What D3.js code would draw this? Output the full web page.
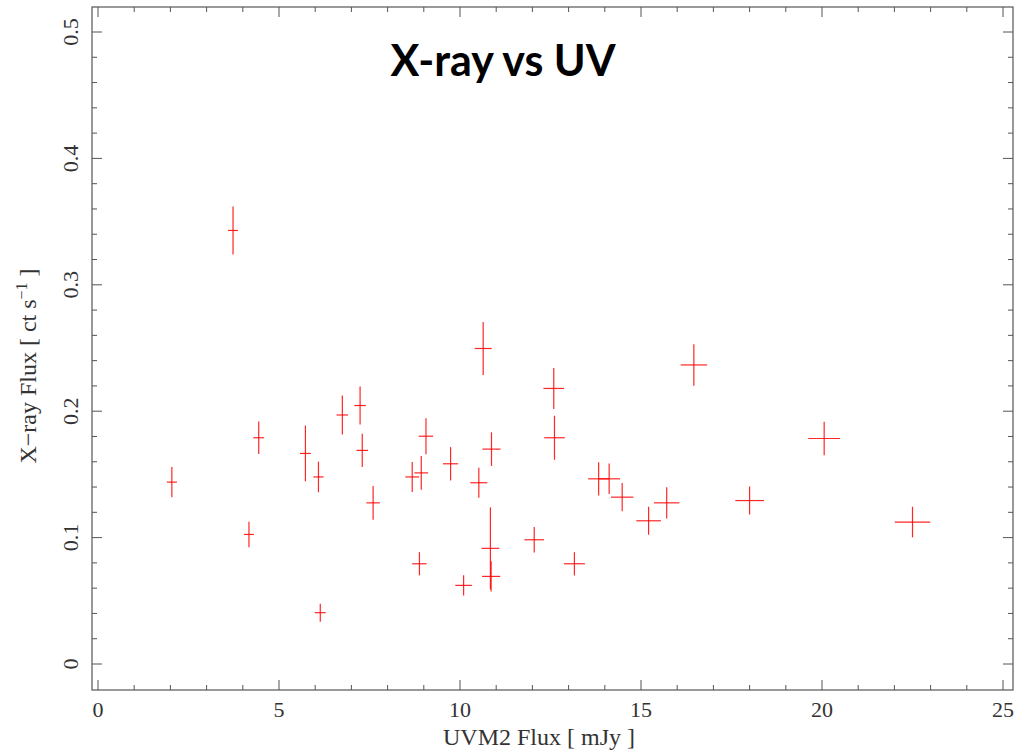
<!DOCTYPE html>
<html>
<head>
<meta charset="utf-8">
<script src="https://cdn.jsdelivr.net/npm/d3@7"></script>
<style>
  html, body { margin: 0; padding: 0; background: #fff; }
  svg { display: block; }
</style>
</head>
<body>
<svg id="chart" width="1022" height="750"></svg>
<script>
// ---- Data ----
const uvFlux   = [2.04, 3.73, 4.17, 4.44, 5.73, 6.09, 6.14, 6.75, 7.24, 7.30, 7.60, 8.68, 8.93, 8.88, 9.06, 9.74, 10.10, 10.52, 10.64, 10.84, 10.86, 10.87, 12.05, 12.59, 12.61, 13.16, 13.83, 14.12, 14.48, 15.21, 15.71, 16.46, 18.00, 20.06, 22.50];
const uvErr    = [0.14, 0.14, 0.14, 0.15, 0.15, 0.14, 0.15, 0.16, 0.16, 0.16, 0.185, 0.19, 0.19, 0.20, 0.20, 0.21, 0.23, 0.235, 0.235, 0.245, 0.25, 0.25, 0.27, 0.285, 0.285, 0.29, 0.29, 0.30, 0.31, 0.34, 0.35, 0.365, 0.395, 0.44, 0.49];
const xrayFlux = [0.1439, 0.343, 0.1025, 0.179, 0.1666, 0.148, 0.0406, 0.197, 0.2045, 0.169, 0.1275, 0.148, 0.1512, 0.0793, 0.1802, 0.1584, 0.0622, 0.1434, 0.2496, 0.0915, 0.0693, 0.170, 0.0983, 0.218, 0.179, 0.0793, 0.1465, 0.1465, 0.132, 0.1133, 0.1275, 0.2366, 0.1293, 0.1784, 0.1123];
const xrayErr  = [0.0119, 0.019, 0.0101, 0.0129, 0.0221, 0.0121, 0.0071, 0.0154, 0.015, 0.0132, 0.0134, 0.0119, 0.0133, 0.0092, 0.0142, 0.0132, 0.0081, 0.0119, 0.021, 0.0324, 0.0119, 0.0133, 0.0101, 0.0162, 0.0174, 0.0092, 0.0132, 0.0121, 0.0111, 0.0111, 0.0123, 0.0164, 0.0111, 0.0132, 0.0121];

const xMajorTicks = [0, 5, 10, 15, 20, 25];
const yMajorTicks = [0, 0.1, 0.2, 0.3, 0.4, 0.5];
const xTickLabels = ["0", "5", "10", "15", "20", "25"];
const yTickLabels = ["0", "0.1", "0.2", "0.3", "0.4", "0.5"];

const titleText = "X-ray vs UV";
const xLabelText = "UVM2 Flux [ mJy ]";

// ---- Layout ----
const frame = { left: 92, right: 1013, top: 7, bottom: 690 };
const x = d3.scaleLinear().domain([0, 25]).range([98, 1003]);
const y = d3.scaleLinear().domain([0, 0.5]).range([664, 32]);

const svg = d3.select("#chart");
const axisColor = "#555";
const textColor = "#333";
const serif = "'Liberation Serif', 'DejaVu Serif', serif";

// frame
svg.append("rect")
  .attr("x", frame.left).attr("y", frame.top)
  .attr("width", frame.right - frame.left).attr("height", frame.bottom - frame.top)
  .attr("fill", "none").attr("stroke", axisColor).attr("stroke-width", 1.2);

// ticks
const xMinor = d3.range(0, 25.001, 1);
const yMinor = d3.range(0, 0.5001, 0.02);
const tickG = svg.append("g").attr("stroke", axisColor).attr("stroke-width", 1);
xMinor.forEach(v => {
  const major = Math.abs(v / 5 - Math.round(v / 5)) < 1e-6;
  const len = major ? 10 : 5;
  tickG.append("line").attr("x1", x(v)).attr("x2", x(v)).attr("y1", frame.bottom).attr("y2", frame.bottom - len);
  tickG.append("line").attr("x1", x(v)).attr("x2", x(v)).attr("y1", frame.top).attr("y2", frame.top + len);
});
yMinor.forEach(v => {
  const major = Math.abs(v / 0.1 - Math.round(v / 0.1)) < 1e-6;
  const len = major ? 10 : 5;
  tickG.append("line").attr("y1", y(v)).attr("y2", y(v)).attr("x1", frame.left).attr("x2", frame.left + len);
  tickG.append("line").attr("y1", y(v)).attr("y2", y(v)).attr("x1", frame.right).attr("x2", frame.right - len);
});

// tick labels
svg.append("g").selectAll("text").data(xMajorTicks).join("text")
  .attr("x", d => x(d)).attr("y", 717)
  .attr("text-anchor", "middle")
  .attr("font-family", serif).attr("font-size", 22).attr("fill", textColor)
  .text((d, i) => xTickLabels[i]);

svg.append("g").selectAll("text").data(yMajorTicks).join("text")
  .attr("transform", d => `translate(78,${y(d)}) rotate(-90)`)
  .attr("text-anchor", "middle")
  .attr("font-family", serif).attr("font-size", 22).attr("fill", textColor)
  .text((d, i) => yTickLabels[i]);

// axis labels
svg.append("text")
  .attr("x", 539).attr("y", 745)
  .attr("text-anchor", "middle")
  .attr("font-family", serif).attr("font-size", 24).attr("fill", textColor)
  .text(xLabelText);

const yl = svg.append("text")
  .attr("transform", "translate(36,366) rotate(-90)")
  .attr("text-anchor", "middle")
  .attr("font-family", serif).attr("font-size", 24).attr("fill", textColor);
yl.append("tspan").text("X\u2212ray Flux [ ct s");
yl.append("tspan").attr("dy", -9).attr("font-size", 16).text("\u22121");
yl.append("tspan").attr("dy", 9).text(" ]");

// title
svg.append("text")
  .attr("x", 503).attr("y", 76)
  .attr("text-anchor", "middle")
  .attr("font-family", "Lato, 'Open Sans', sans-serif").attr("font-weight", "bold")
  .attr("font-size", 43).attr("fill", "#000")
  .text(titleText);

// error-bar crosses
const pts = uvFlux.map((v, i) => ({ x: v, xe: uvErr[i], y: xrayFlux[i], ye: xrayErr[i] }));
const g = svg.append("g").attr("stroke", "#ff0000").attr("stroke-width", 1.2).attr("stroke-opacity", 0.85);
g.selectAll("line.h").data(pts).join("line").attr("class", "h")
  .attr("x1", d => x(d.x - d.xe)).attr("x2", d => x(d.x + d.xe))
  .attr("y1", d => y(d.y)).attr("y2", d => y(d.y));
g.selectAll("line.v").data(pts).join("line").attr("class", "v")
  .attr("x1", d => x(d.x)).attr("x2", d => x(d.x))
  .attr("y1", d => y(d.y - d.ye)).attr("y2", d => y(d.y + d.ye));
</script>
</body>
</html>
